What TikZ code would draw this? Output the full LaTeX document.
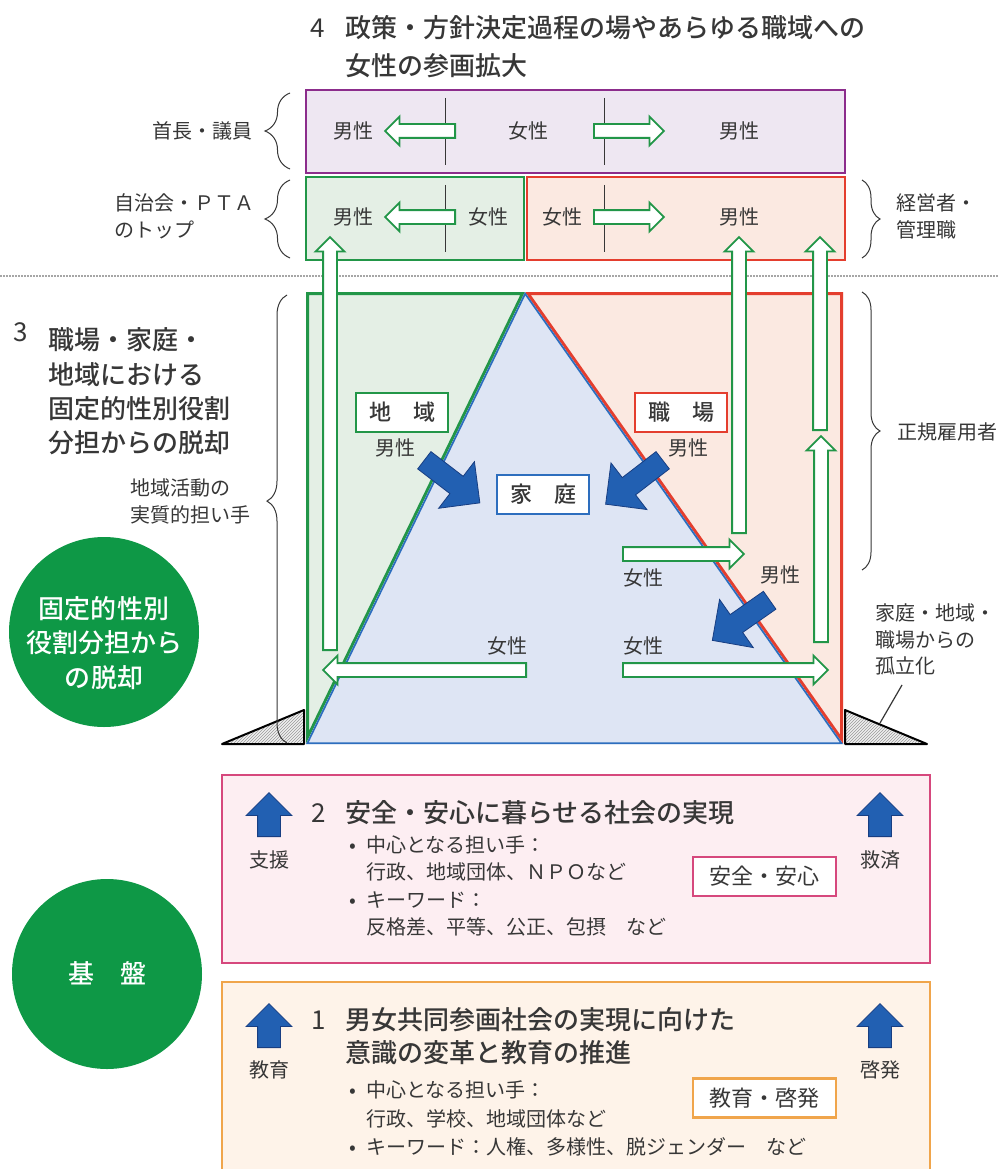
\documentclass[tikz,border=0pt]{standalone}
\usepackage{fontspec}
\setmainfont{Noto Sans CJK JP}[BoldFont={Noto Sans CJK JP Medium}]
\usetikzlibrary{shapes.arrows,patterns,decorations.pathreplacing}
\definecolor{ink}{RGB}{55,55,55}
\definecolor{grn}{RGB}{34,150,72}
\definecolor{grnfill}{RGB}{228,239,229}
\definecolor{rd}{RGB}{228,62,46}
\definecolor{rdfill}{RGB}{251,233,225}
\definecolor{pur}{RGB}{140,45,140}
\definecolor{purfill}{RGB}{238,231,242}
\definecolor{blu}{RGB}{45,110,190}
\definecolor{blufill}{RGB}{222,229,244}
\definecolor{arrblue}{RGB}{34,96,178}
\definecolor{arrdark}{RGB}{24,62,130}
\definecolor{pnk}{RGB}{214,72,125}
\definecolor{pnkfill}{RGB}{253,238,242}
\definecolor{org}{RGB}{240,165,75}
\definecolor{orgfill}{RGB}{254,243,233}
\definecolor{circgreen}{RGB}{14,152,70}

\begin{document}
\begin{tikzpicture}[x=1pt,y=-1pt,
  txt/.style={text=ink,inner sep=0pt,font=\fontsize{20}{27}\selectfont},
  big/.style={text=ink,inner sep=0pt,font=\fontsize{26}{34.3}\selectfont\bfseries},
  num/.style={text=ink,inner sep=0pt,font=\fontsize{26}{26}\selectfont},
  hollow/.style={single arrow,draw=grn,line width=1.8pt,fill=white,inner xsep=0pt,inner ysep=6pt,single arrow head extend=7.5pt,anchor=tail},
  fat/.style={single arrow,draw=arrdark,line width=0.8pt,fill=arrblue,inner xsep=0pt,inner ysep=10.5pt,single arrow head extend=18.5pt,anchor=tail},
  upblue/.style={single arrow,draw=arrdark,line width=0.8pt,fill=arrblue,inner xsep=0pt,inner ysep=11pt,single arrow head extend=11.5pt,anchor=tail,rotate=90,minimum height=44pt},
  tag/.style={draw=#1,line width=2.5pt,fill=white,minimum width=92pt,minimum height=39pt,inner sep=0pt,text=ink,font=\fontsize{22}{22}\selectfont\bfseries},
  circ/.style={circle,fill=circgreen,minimum size=190pt,inner sep=0pt},
  circtext/.style={text=white,align=center,inner sep=0pt,font=\fontsize{26}{34.5}\selectfont\bfseries},
  brc/.style={decorate,decoration={brace,amplitude=#1},draw=ink,line width=1pt},
  hatch/.style={draw=black,line width=2pt,line join=round,preaction={fill=gray!12},pattern=north east lines,pattern color=gray!80},
]
\fill[white] (0,0) rectangle (999,1169);
\useasboundingbox (0,0) rectangle (999,1169);

\node[num] (n4) at (318,28) {4};
\node[big,anchor=west,align=left,font=\fontsize{26}{38}\selectfont\bfseries] (t4) at (345,47) {政策・方針決定過程の場やあらゆる職域への\\女性の参画拡大};

\draw[pur,line width=2pt,fill=purfill] (306,90) rectangle (845,173);
\draw[grn,line width=2pt,fill=grnfill] (306,177) rectangle (524,260);
\draw[rd,line width=2pt,fill=rdfill] (527,177) rectangle (845,260);
\foreach \x in {445,604} {\draw[ink,line width=1pt] (\x,98) -- (\x,165) (\x,185) -- (\x,252);}
\node[hollow,rotate=180,minimum height=70pt] (a1) at (456,131) {};
\node[hollow,minimum height=70pt] (a2) at (593,131) {};
\node[hollow,rotate=180,minimum height=70pt] (a3) at (456,217) {};
\node[hollow,minimum height=70pt] (a4) at (593,217) {};
\node[txt] (m1) at (353,131) {男性};
\node[txt] (w1) at (528,131) {女性};
\node[txt] (m2) at (739,131) {男性};
\node[txt] (m3) at (353,217) {男性};
\node[txt] (w2) at (488,217) {女性};
\node[txt] (w3) at (562,217) {女性};
\node[txt] (m4) at (739,217) {男性};

\node[txt,anchor=east] (shucho) at (253,131) {首長・議員};
\node[txt,anchor=west,align=left] (pta) at (114,216.5) {自治会・ＰＴＡ\\のトップ};
\node[txt,anchor=west,align=left] (keiei) at (896,216.5) {経営者・\\管理職};
\draw[brc=25pt] (290,169) -- (290,93);
\draw[brc=25pt] (290,258) -- (290,180);
\draw[brc=18pt] (862,180) -- (862,258);

\draw[gray!70,line width=1.5pt,dash pattern=on 1.5pt off 1.5pt] (0,276) -- (999,276);

\coordinate (tl) at (306,292);
\coordinate (apex) at (525,292);
\coordinate (tr) at (843,292);
\coordinate (bl) at (306,744);
\coordinate (br) at (843,744);
\begin{scope}
  \clip (bl) -- (tl) -- (apex) -- cycle;
  \draw[grn,line width=6pt,fill=grnfill] (bl) -- (tl) -- (apex) -- cycle;
\end{scope}
\begin{scope}
  \clip (apex) -- (tr) -- (br) -- cycle;
  \draw[rd,line width=6pt,fill=rdfill] (apex) -- (tr) -- (br) -- cycle;
\end{scope}
\begin{scope}
  \clip (apex) -- (br) -- (bl) -- cycle;
  \draw[blu,line width=3.5pt,fill=blufill] (apex) -- (br) -- (bl) -- cycle;
\end{scope}
\draw[hatch] (222,744) -- (304,744) -- (304,710) -- cycle;
\draw[hatch] (845,710) -- (845,744) -- (927,744) -- cycle;

\node[num] (n3) at (21,332) {3};
\node[big,anchor=west,align=left] (t3) at (48,391.5) {職場・家庭・\\地域における\\固定的性別役割\\分担からの脱却};
\node[txt,anchor=west,align=left] (chiiki) at (130,501.5) {地域活動の\\実質的担い手};
\node[txt,anchor=west] (seiki) at (897,432) {正規雇用者};
\node[txt,anchor=west,align=left,font=\fontsize{20}{26.5}\selectfont] (isolab) at (875,639.5) {家庭・地域・\\職場からの\\孤立化};
\coordinate (isofoot) at (902,685);
\coordinate (isotip) at (880,723);
\draw[ink,line width=1.2pt] (isofoot) -- (isotip);
\draw[brc=20pt,decoration={aspect=0.54}] (287,743) -- (287,295);
\draw[brc=18pt] (862,292) -- (862,570);

\node[hollow,rotate=90,minimum height=413pt] (v1) at (330,651) {};
\node[hollow,rotate=90,minimum height=296pt] (v2) at (739,534) {};
\node[hollow,rotate=90,minimum height=193pt] (v3) at (820,431) {};
\node[hollow,rotate=90,minimum height=206pt] (v4) at (821,643) {};
\node[hollow,minimum height=121pt] (h1) at (622,554) {};
\node[hollow,rotate=180,minimum height=203pt] (h2) at (527,670) {};
\node[hollow,minimum height=205pt] (h3) at (622,670) {};

\node[tag=grn] (chiikibox) at (402,412.5) {地　域};
\node[tag=rd] (shokuba) at (681,412.5) {職　場};
\node[tag=blu] (katei) at (543,494.5) {家　庭};
\node[txt] (m5) at (395,448) {男性};
\node[txt] (m6) at (688,448) {男性};
\node[txt] (w4) at (643,578) {女性};
\node[txt] (m7) at (780,575) {男性};
\node[txt] (w5) at (507,646) {女性};
\node[txt] (w6) at (643,646) {女性};
\node[fat,rotate=-37.5,minimum height=70pt] (f1) at (424,460) {};
\node[fat,rotate=-142.4,minimum height=72pt] (f2) at (663,460) {};
\node[fat,rotate=-145,minimum height=70pt] (f3) at (770,600) {};

\node[circ] (c3) at (104,632) {};
\node[circtext] (c3text) at (104,643) {固定的性別\\役割分担から\\の脱却};
\node[circ] (base) at (107,974) {};
\node[circtext] (basetext) at (107,973) {基　盤};

\draw[pnk,line width=2pt,fill=pnkfill] (222,775) rectangle (930,963);
\draw[org,line width=2pt,fill=orgfill] (222,982) rectangle (930,1174);

\node[upblue] (u1) at (269,837) {};
\node[upblue] (u2) at (880,837) {};
\node[txt] (shien) at (269,860) {支援};
\node[txt] (kyusai) at (880,860) {救済};
\node[num] (n2) at (319,813) {2};
\node[big,anchor=west] (t2) at (345,813) {安全・安心に暮らせる社会の実現};
\node[txt,anchor=west,align=left,font=\fontsize{20}{27.3}\selectfont] (b2) at (349,886) {\makebox[17pt][l]{•}中心となる担い手：\\\hspace*{17pt}行政、地域団体、ＮＰＯなど\\\makebox[17pt][l]{•}キーワード：\\\hspace*{17pt}反格差、平等、公正、包摂　など};
\node[tag=pnk,minimum width=143pt,font=\fontsize{22}{22}\selectfont] (anzen) at (764.5,876.5) {安全・安心};

\node[upblue] (u3) at (269,1048) {};
\node[upblue] (u4) at (880,1048) {};
\node[txt] (kyoiku) at (269,1070) {教育};
\node[txt] (keihatsu) at (880,1070) {啓発};
\node[num] (n1) at (319,1020) {1};
\node[big,anchor=west,align=left,font=\fontsize{26}{33}\selectfont\bfseries] (t1) at (345,1036.5) {男女共同参画社会の実現に向けた\\意識の変革と教育の推進};
\node[txt,anchor=west,align=left,font=\fontsize{20}{28.5}\selectfont] (b1) at (349,1118.5) {\makebox[17pt][l]{•}中心となる担い手：\\\hspace*{17pt}行政、学校、地域団体など\\\makebox[17pt][l]{•}キーワード：人権、多様性、脱ジェンダー　など};
\node[tag=org,minimum width=143pt,font=\fontsize{22}{22}\selectfont] (kyoikubox) at (764.5,1098) {教育・啓発};
\end{tikzpicture}
\end{document}
